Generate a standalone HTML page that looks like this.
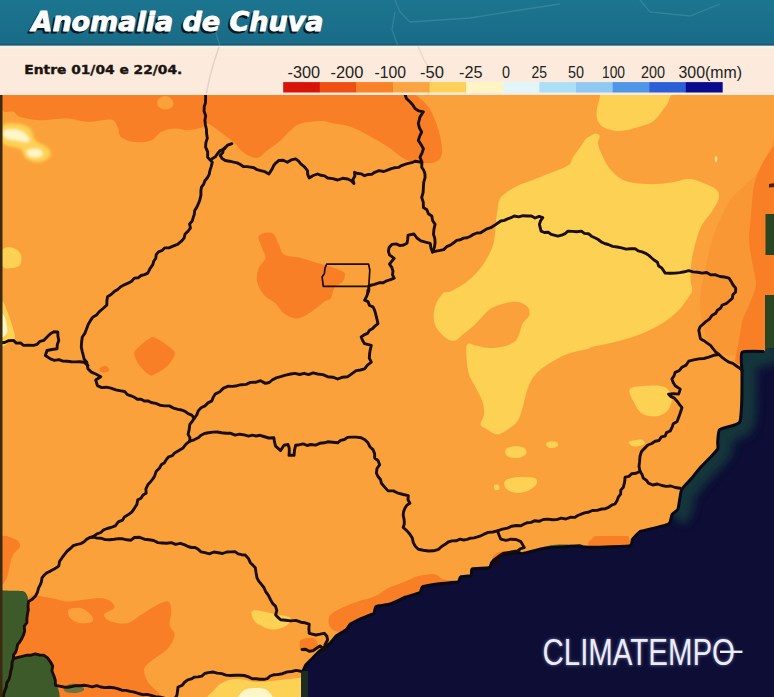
<!DOCTYPE html>
<html><head><meta charset="utf-8"><title>Anomalia de Chuva</title>
<style>
html,body{margin:0;padding:0;background:#fff;}
body{width:774px;height:697px;overflow:hidden;position:relative;font-family:"Liberation Sans",sans-serif;}
svg{position:absolute;left:0;top:0;display:block}
</style></head><body>
<svg width="774" height="697" viewBox="0 0 774 697">
<defs>
<linearGradient id="hg" x1="0" y1="0" x2="0" y2="1"><stop offset="0" stop-color="#1c7590"/><stop offset="1" stop-color="#196b86"/></linearGradient>
<filter id="b1" x="-10%" y="-10%" width="120%" height="120%"><feGaussianBlur stdDeviation="0.6"/></filter>
<filter id="b15" x="-10%" y="-10%" width="120%" height="120%"><feGaussianBlur stdDeviation="1.4"/></filter>
<filter id="b2" x="-10%" y="-30%" width="120%" height="160%"><feGaussianBlur stdDeviation="1.6"/></filter>
<filter id="b3" x="-20%" y="-20%" width="140%" height="140%"><feGaussianBlur stdDeviation="5"/></filter>
<clipPath id="mapclip"><rect x="0" y="94" width="774" height="603"/></clipPath>
</defs>

<rect x="0" y="94" width="774" height="603" fill="#fba13b"/>
<g clip-path="url(#mapclip)"><g filter="url(#b1)">
<path d="M0 94 C0.5 99.1 0.5 107.8 2.7 110.8 C4.9 113.8 10.5 110.8 13.4 111.8 C16.3 112.8 15.7 115.5 20.2 116.9 C24.7 118.3 32.5 119.9 40.3 120.2 C48.1 120.5 59.4 118.3 67.2 118.6 C75.0 118.9 80.0 121.7 87.3 121.9 C94.6 122.1 105.9 118.8 110.9 119.6 C116.0 120.4 115.9 124.1 117.6 127 C119.3 129.9 118.1 134.5 120.9 137 C123.7 139.5 129.4 141.5 134.4 142.1 C139.4 142.7 146.7 142.1 151.2 140.4 C155.7 138.7 157.3 134.0 161.2 132 C165.1 130.0 170.2 128.9 174.7 128.6 C179.2 128.3 183.6 130.5 188.1 130.3 C192.6 130.1 198.4 128.7 201.6 127.6 C204.8 126.5 204.3 122.9 207.4 123.6 C210.5 124.3 215.8 128.9 220.2 132 C224.6 135.1 229.7 138.6 233.6 142.1 C237.5 145.6 239.8 150.2 243.7 152.8 C247.6 155.4 253.2 158.3 257.1 157.9 C261.0 157.5 263.3 153.4 267.2 150.5 C271.1 147.6 276.7 143.8 280.6 140.4 C284.5 137.0 287.3 133.1 290.7 130.3 C294.1 127.5 295.8 125.2 300.8 123.6 C305.8 122.0 315.3 120.9 320.9 120.9 C326.5 120.9 329.3 122.6 334.4 123.6 C339.4 124.6 345.6 125.0 351.2 127 C356.8 128.9 361.9 132.0 368 135.3 C374.1 138.7 382.5 143.4 388.1 147.1 C393.7 150.8 397.1 154.7 401.6 157.2 C406.1 159.7 409.4 161.4 415 162.2 C420.6 163.0 430.6 163.6 435.1 162.2 C439.6 160.8 441.0 158.0 441.9 153.8 C442.8 149.6 441.3 142.6 440.2 137 C439.1 131.4 437.1 125.2 435.1 120.2 C433.1 115.2 431.2 110.7 428.4 106.8 C425.6 102.9 420.5 98.8 418.3 96.7 C416.1 94.6 415.6 96.8 415 94 C414.4 91.2 484.2 82.3 415 80 C345.8 77.7 69.2 77.7 0 80 C-69.2 82.3 -0.5 88.9 0 94Z" fill="#f97f28"/>
<path d="M157.9 100.1 C158.9 98.3 162.2 96.1 164.6 96 C166.9 95.9 170.6 97.7 172 99.4 C173.4 101.1 173.9 104.4 173 106.1 C172.1 107.8 168.7 109.4 166.3 109.5 C163.9 109.6 160.0 108.4 158.6 106.8 C157.2 105.2 156.9 101.9 157.9 100.1Z" fill="#fba13b"/>
<path d="M2.7 249.6 C4.5 246.5 10.4 247.1 13.4 247.9 C16.4 248.7 19.7 251.8 20.8 254.6 C21.9 257.4 21.7 262.5 20.2 264.7 C18.7 266.9 14.7 267.7 11.8 268 C8.9 268.3 4.2 269.5 2.7 266.4 C1.2 263.3 0.9 252.7 2.7 249.6Z" fill="#fdd153"/>
<path d="M0 301.8 C0.5 296.3 2.7 301.4 4 303.4 C5.3 305.4 7.9 312.4 9.4 316.9 C10.9 321.4 15.2 333.5 15.1 337 C15.0 340.5 10.4 342.1 8.4 343.1 C6.4 344.1 1.1 349.9 0 344.4 C-1.1 338.9 -0.5 307.3 0 301.8Z" fill="#fdd153"/>
<path d="M0 313.5 C0.6 310.8 3.7 314.4 4.7 316.9 C5.7 319.4 8.0 329.3 7.4 332 C6.8 334.7 1.0 339.5 0 337 C-1.0 334.5 -0.6 316.2 0 313.5Z" fill="#fff6c8"/>
<path d="M258.8 236 C260.5 233.5 268.6 231.6 272 233 C275.4 234.4 277.0 240.9 279 244.5 C281.0 248.1 280.4 252.3 284 254.6 C287.6 256.9 295.2 256.6 300.8 258 C306.4 259.4 312.0 261.3 317.6 263 C323.2 264.7 329.9 266.3 334.4 268 C338.9 269.7 343.0 270.8 344.4 273 C345.8 275.2 344.5 279.0 342.8 281.5 C341.1 284.0 336.4 285.2 334.4 288 C332.4 290.8 332.7 295.7 331 298 C329.3 300.3 327.3 299.7 324 302 C320.7 304.3 315.4 309.2 311 312 C306.6 314.8 301.9 318.2 297.4 318.5 C292.9 318.8 287.6 316.0 284 313.5 C280.4 311.0 278.9 306.5 275.6 303.4 C272.3 300.3 267.1 298.6 264 295 C260.9 291.4 257.9 286.0 257 281.5 C256.1 277.0 257.4 271.9 258.8 268 C260.2 264.1 265.0 261.3 265.5 258 C266.0 254.7 263.1 251.7 262 248 C260.9 244.3 257.1 238.5 258.8 236Z" fill="#f97f28"/>
<path d="M152.8 337 C156.8 337.0 173.2 349.2 174.7 352.1 C176.2 355.0 170.3 363.2 168 365.6 C165.7 368.0 154.1 375.7 151.2 375.7 C148.3 375.7 141.1 368.0 139.4 365.6 C137.7 363.2 133.1 355.0 134.4 352.1 C135.7 349.2 148.8 337.0 152.8 337Z" fill="#f97f28"/>
<path d="M100.1 367.9 C101.0 367.0 104.3 365.6 105.8 365.9 C107.3 366.2 109.4 368.8 109.2 369.9 C109.0 371.0 106.3 372.4 104.8 372.6 C103.3 372.8 100.9 372.1 100.1 371.3 C99.3 370.5 99.1 368.8 100.1 367.9Z" fill="#f97f28"/>
<path d="M602 80 C590.2 82.7 600.9 90.8 600 96 C599.1 101.2 597.0 106.8 596.7 111 C596.4 115.2 596.6 118.2 598 121 C599.4 123.8 601.4 126.3 605 128 C608.6 129.7 613.8 131.2 619.5 131 C625.2 130.8 633.7 128.4 639.4 126.7 C645.1 125.0 649.8 123.6 653.6 121 C657.4 118.4 659.4 114.5 662 111 C664.6 107.5 667.5 104.9 669 99.7 C670.5 94.5 682.2 83.3 671 80 C659.8 76.7 613.8 77.3 602 80Z" fill="#fdd153"/>
<path d="M599.6 136 C599.1 134.3 596.7 133.6 595.3 133.6 C593.9 133.6 592.5 134.9 591 135.8 C589.5 136.7 587.6 137.2 586 138.8 C584.4 140.4 583.6 142.3 581.4 145.4 C579.2 148.5 575.2 153.8 573 157.2 C570.8 160.6 572.2 162.8 568 165.6 C563.8 168.4 554.0 171.5 547.8 174 C541.6 176.5 536.6 178.5 531 180.7 C525.4 182.9 519.2 184.6 514.2 187.4 C509.2 190.2 503.6 193.6 500.8 197.5 C498.0 201.4 498.2 206.4 497.4 210.9 C496.5 215.4 496.2 219.4 495.7 224.4 C495.1 229.4 495.2 236.2 494.1 241.2 C493.0 246.2 491.2 250.1 489 254.6 C486.8 259.1 484.2 263.5 480.6 268 C477.0 272.5 472.2 277.6 467.2 281.5 C462.2 285.4 454.3 289.7 450.4 291.6 C446.5 293.5 446.0 290.7 443.7 292.7 C441.4 294.7 438.0 299.4 436.3 303.4 C434.6 307.4 433.5 312.7 433.6 316.9 C433.7 321.1 434.8 325.0 437 328.6 C439.2 332.2 443.9 336.7 447 338.7 C450.1 340.7 452.6 341.2 455.4 340.4 C458.2 339.6 461.0 335.9 463.8 333.7 C466.6 331.5 469.4 329.5 472.2 327 C475.0 324.5 477.5 321.7 480.6 318.6 C483.7 315.5 486.8 311.0 490.7 308.5 C494.6 306.0 499.6 304.5 504.1 303.4 C508.6 302.3 513.7 301.2 517.6 301.8 C521.5 302.4 525.7 304.6 527.6 306.8 C529.5 309.0 530.1 312.4 529.3 315.2 C528.5 318.0 524.3 320.5 522.6 323.6 C520.9 326.7 520.7 330.6 519.3 333.7 C517.9 336.8 517.3 339.9 514.2 342.1 C511.1 344.3 505.3 346.2 500.8 347.1 C496.3 348.1 491.5 348.1 487.3 347.8 C483.1 347.5 479.0 346.0 475.6 345.4 C472.2 344.8 468.7 342.4 467.2 344.4 C465.7 346.4 466.2 352.3 466.5 357.2 C466.8 362.1 467.4 369.0 468.9 374 C470.4 379.0 473.4 382.9 475.6 387.4 C477.8 391.9 480.9 396.4 482.3 400.9 C483.7 405.4 484.3 410.4 484 414.3 C483.7 418.2 480.1 421.9 480.6 424.4 C481.2 426.9 484.5 427.7 487.3 429.4 C490.1 431.1 494.0 434.4 497.4 434.4 C500.8 434.4 504.1 431.6 507.5 429.4 C510.9 427.2 515.1 424.6 517.6 421 C520.1 417.4 521.2 412.1 522.6 407.6 C524.0 403.1 524.6 398.6 526 394.1 C527.4 389.6 528.8 384.6 531 380.7 C533.2 376.8 536.0 373.7 539.4 370.6 C542.8 367.5 546.4 365.0 551.2 362.2 C556.0 359.4 561.9 356.0 568 353.8 C574.1 351.6 584.2 349.9 588.1 348.8 C592.0 347.7 586.8 348.2 591.3 347.1 C595.8 346.0 606.4 344.3 614.8 342.1 C623.2 339.9 633.8 336.8 641.6 333.7 C649.4 330.6 655.6 327.5 661.8 323.6 C668.0 319.7 674.1 314.7 678.6 310.2 C683.1 305.7 686.5 300.1 688.7 296.7 C690.9 293.3 691.7 293.1 692 290 C692.3 286.9 690.4 283.4 690.4 278.1 C690.4 272.8 690.9 264.7 692 258 C693.1 251.3 695.4 243.4 697.1 237.8 C698.8 232.2 699.6 228.9 702.1 224.4 C704.6 219.9 709.4 215.4 712.2 210.9 C715.0 206.4 718.3 201.1 718.9 197.5 C719.5 193.9 718.4 191.6 715.6 189.1 C712.8 186.6 706.6 184.1 702.1 182.4 C697.6 180.7 693.7 179.0 688.7 179 C683.7 179.0 678.6 181.6 671.9 182.4 C665.2 183.2 656.2 184.4 648.4 184.1 C640.6 183.8 631.1 182.9 624.9 180.7 C618.7 178.4 615.0 174.5 611.4 170.6 C607.8 166.7 605.2 161.7 603 157.2 C600.8 152.7 598.6 147.2 598 143.7 C597.4 140.2 600.1 137.7 599.6 136Z" fill="#fdd153"/>
<path d="M715 157 C715.2 156.2 716.1 156.2 716.5 156.5 C716.9 156.8 717.3 158.1 717.3 159 C717.3 159.9 716.9 161.6 716.5 162 C716.1 162.4 715.2 162.3 715 161.5 C714.8 160.7 714.8 157.8 715 157Z" fill="#fde08a"/>
<path d="M629.9 389.1 C632.1 386.0 642.5 386.0 648.4 385.7 C654.3 385.4 661.3 385.4 665.2 387.4 C669.1 389.4 671.4 393.9 671.9 397.5 C672.4 401.1 670.8 406.2 668.5 409.3 C666.2 412.4 662.6 415.2 658.4 416 C654.2 416.8 647.2 416.3 643.3 414.3 C639.4 412.3 637.1 408.4 634.9 404.2 C632.7 400.0 627.6 392.2 629.9 389.1Z" fill="#fdd153"/>
<path d="M505.8 449.6 C506.9 447.9 511.1 446.5 514.2 446.2 C517.3 445.9 522.3 446.6 524.3 447.9 C526.3 449.2 527.1 452.2 526 453.9 C524.9 455.6 520.7 457.6 517.6 458 C514.5 458.4 509.5 457.7 507.5 456.3 C505.5 454.9 504.7 451.3 505.8 449.6Z" fill="#fdd153"/>
<path d="M546.8 442.8 C547.8 442.1 551.2 441.4 552.8 441.8 C554.4 442.2 556.5 444.2 556.2 445.2 C555.9 446.2 552.7 447.7 551.2 447.9 C549.7 448.1 547.8 447.0 547.1 446.2 C546.4 445.4 545.8 443.5 546.8 442.8Z" fill="#fdd153"/>
<path d="M504.8 481.5 C506.2 479.7 509.3 478.0 514.2 477.4 C519.1 476.8 530.8 476.9 534.4 478.1 C538.0 479.3 537.4 482.6 536 484.8 C534.6 487.1 529.6 490.3 526 491.6 C522.4 492.9 517.6 493.2 514.2 492.6 C510.8 492.0 507.4 490.1 505.8 488.2 C504.2 486.3 503.4 483.3 504.8 481.5Z" fill="#fdd153"/>
<path d="M494.1 485.5 C494.6 484.6 497.2 484.2 498.1 484.8 C499.0 485.4 499.9 488.0 499.4 488.9 C498.9 489.8 496.0 490.5 495.1 489.9 C494.2 489.3 493.6 486.4 494.1 485.5Z" fill="#fdd153"/>
<path d="M629.9 441.2 C631.8 440.4 639.2 439.1 641.6 439.5 C644.0 439.9 645.4 442.7 644.3 443.9 C643.2 445.1 637.2 446.4 634.9 446.5 C632.5 446.6 631.0 445.4 630.2 444.5 C629.4 443.6 628.0 442.0 629.9 441.2Z" fill="#fdd153"/>
<path d="M546.9 442.8 C548.0 441.8 554.2 441.2 556 441.8 C557.8 442.4 558.8 445.2 557.7 446.2 C556.6 447.2 551.1 448.5 549.3 447.9 C547.5 447.3 545.8 443.8 546.9 442.8Z" fill="#fdd153"/>
<path d="M780 140 C777.5 108.2 770.8 157.5 765 165 C759.2 172.5 750.8 179.2 745 185 C739.2 190.8 733.8 195.0 730 200 C726.2 205.0 725.0 208.3 722 215 C719.0 221.7 714.8 230.8 712 240 C709.2 249.2 707.0 260.0 705 270 C703.0 280.0 700.2 290.0 700 300 C699.8 310.0 701.3 321.3 704 330 C706.7 338.7 709.2 347.7 716 352 C722.8 356.3 734.3 355.3 745 356 C755.7 356.7 774.2 392.0 780 356 C785.8 320.0 782.5 171.8 780 140Z" fill="#fa9735"/>
<path d="M780 140 C779.0 106.7 776.4 142.5 774 145.4 C771.6 148.3 768.6 152.4 765.9 157.2 C763.1 162.0 759.6 168.4 757.5 174 C755.4 179.6 754.3 183.5 753.2 190.8 C752.1 198.1 751.5 209.2 750.8 217.6 C750.1 226.0 748.8 233.3 749.1 241.2 C749.4 249.0 751.4 257.4 752.5 264.7 C753.6 272.0 756.5 278.1 755.9 284.8 C755.3 291.5 751.4 299.1 749.1 305 C746.9 310.9 744.1 314.3 742.4 320.2 C740.7 326.1 740.2 333.4 739.1 340.4 C738.0 347.4 734.0 358.6 735.7 362.2 C737.4 365.8 744.3 363.9 749.1 362.2 C753.9 360.5 759.1 355.0 764.3 352.1 C769.4 349.2 777.4 380.4 780 345 C782.6 309.6 781.0 173.3 780 140Z" fill="#f97f28"/>
<path d="M30.2 596.3 C33.8 593.5 44.2 597.1 50.4 598 C56.6 598.9 61.6 601.1 67.2 601.4 C72.8 601.7 78.4 600.3 84 599.7 C89.6 599.1 96.3 597.7 100.8 598 C105.3 598.3 108.7 599.7 110.9 601.4 C113.1 603.1 115.3 605.9 114.2 608.1 C113.1 610.3 104.6 612.6 104.1 614.8 C103.5 617.0 107.0 620.1 110.9 621.5 C114.8 622.9 122.6 624.3 127.6 623.2 C132.6 622.1 136.6 617.6 141.1 614.8 C145.6 612.0 150.0 608.6 154.5 606.4 C159.0 604.2 165.2 600.6 168 601.4 C170.8 602.2 171.0 607.5 171.3 611.4 C171.6 615.3 169.0 621.0 169.6 624.9 C170.2 628.8 175.0 631.1 174.7 635 C174.4 638.9 171.4 644.5 168 648.4 C164.6 652.3 158.4 655.1 154.5 658.5 C150.6 661.9 145.5 664.7 144.4 668.6 C143.3 672.5 145.6 678.1 147.8 682 C150.1 685.9 155.7 688.8 157.9 692.1 C160.1 695.5 170.7 700.4 161.2 702.1 C151.7 703.8 119.3 702.1 100.8 702.1 C82.3 702.1 63.8 702.7 50.4 702.1 C37.0 701.5 26.4 706.6 20.2 698.8 C14.0 691.0 12.8 665.7 13.4 655.1 C14.0 644.5 21.0 641.7 23.5 635 C26.0 628.3 27.5 621.2 28.6 614.8 C29.7 608.3 26.6 599.1 30.2 596.3Z" fill="#f97f28"/>
<path d="M68.9 609.8 C70.6 608.1 77.0 607.3 80.6 608.1 C84.2 608.9 88.7 612.6 90.7 614.8 C92.7 617.0 94.1 620.1 92.4 621.5 C90.7 622.9 84.2 623.8 80.6 623.2 C76.9 622.7 72.5 620.4 70.5 618.2 C68.5 616.0 67.2 611.5 68.9 609.8Z" fill="#fba13b"/>
<path d="M0 539.2 C2.5 531.9 11.7 538.1 15.1 539.2 C18.5 540.3 20.5 543.4 20.2 545.9 C19.9 548.4 15.1 551.2 13.4 554.3 C11.7 557.4 11.2 560.5 10.1 564.4 C9.0 568.3 8.4 574.8 6.7 577.9 C5.0 581.0 1.1 589.3 0 582.9 C-1.1 576.5 -2.5 546.5 0 539.2Z" fill="#f97f28"/>
<path d="M253.1 610.8 C254.7 609.6 259.8 610.7 263.8 611.4 C267.8 612.1 272.9 613.8 277.3 614.8 C281.7 615.8 288.4 615.7 290 617.5 C291.6 619.3 289.4 623.6 286.7 625.6 C284.0 627.6 278.0 629.5 273.9 629.6 C269.8 629.7 265.4 628.0 262.1 626.2 C258.9 624.4 255.9 621.4 254.4 618.8 C252.9 616.2 251.5 612.0 253.1 610.8Z" fill="#fdd153"/>
<path d="M212 704 C197.2 701.5 212.7 692.8 215 689 C217.3 685.2 221.8 682.7 226 681 C230.2 679.3 235.0 678.8 240 679 C245.0 679.2 250.7 681.7 256 682 C261.3 682.3 266.3 681.5 272 681 C277.7 680.5 284.7 679.2 290 679 C295.3 678.8 301.7 675.8 304 680 C306.3 684.2 319.3 700.0 304 704 C288.7 708.0 226.8 706.5 212 704Z" fill="#fdd153"/>
<path d="M238 704 C233.0 701.8 240.0 693.7 243 691 C246.0 688.3 251.8 688.0 256 688 C260.2 688.0 265.2 688.3 268 691 C270.8 693.7 278.0 701.8 273 704 C268.0 706.2 243.0 706.2 238 704Z" fill="#fff6c8"/>
<path d="M251.9 611.4 C253.0 610.6 258.6 612.5 260 614.8 C261.4 617.0 261.1 624.1 260 624.9 C258.9 625.7 254.9 622.0 253.6 619.8 C252.2 617.5 250.8 612.2 251.9 611.4Z" fill="#fdd153"/>
<path d="M329.3 616.5 C331.0 613.1 336.3 610.6 341.1 608.1 C345.9 605.6 352.3 603.4 357.9 601.4 C363.5 599.4 369.7 598.5 374.7 596.3 C379.7 594.0 383.6 590.1 388.1 587.9 C392.6 585.7 396.6 584.8 401.6 582.9 C406.6 581.0 412.7 577.6 418.3 576.2 C423.9 574.8 431.2 574.0 435.1 574.5 C439.0 575.0 437.8 578.4 441.9 579.5 C446.0 580.6 455.8 580.4 460 581.2 C464.2 582.1 468.8 583.2 467.2 584.6 C465.6 586.0 456.0 588.2 450.4 589.6 C444.8 591.0 438.6 591.6 433.6 593 C428.6 594.4 427.8 595.5 420.2 598 C412.6 600.5 396.8 604.5 388.1 608.1 C379.4 611.7 375.3 615.9 368 619.8 C360.7 623.7 350.6 630.2 344.4 631.6 C338.2 633.0 333.5 630.7 331 628.2 C328.5 625.7 327.6 619.9 329.3 616.5Z" fill="#f97f28"/>
<path d="M400 589.6 C402.2 585.1 407.8 580.4 413.4 577.9 C419.0 575.4 428.6 574.2 433.6 574.5 C438.7 574.8 439.2 578.1 443.7 579.5 C448.2 580.9 456.6 581.5 460.5 582.9 C464.4 584.3 471.7 585.9 467.2 587.9 C462.7 589.9 444.8 591.8 433.6 594.6 C422.4 597.4 405.6 605.5 400 604.7 C394.4 603.9 397.8 594.1 400 589.6Z" fill="#f97f28"/>
<path d="M492 559 C491.8 557.7 494.8 554.3 497 553 C499.2 551.7 502.7 551.0 505 551 C507.3 551.0 510.5 551.8 511 553 C511.5 554.2 510.2 556.7 508 558 C505.8 559.3 500.7 560.8 498 561 C495.3 561.2 492.2 560.3 492 559Z" fill="#f97f28"/>
<path d="M546 551 C544.0 549.8 545.7 547.1 548 546 C550.3 544.9 555.7 544.7 560 544.5 C564.3 544.3 570.7 544.4 574 545 C577.3 545.6 579.3 546.8 580 548 C580.7 549.2 581.3 551.2 578 552 C574.7 552.8 565.3 553.2 560 553 C554.7 552.8 548.0 552.2 546 551Z" fill="#4a5a36"/>
<path d="M588.1 542.6 L594.8 535.9 L628.4 535.9 L631.8 547.6 L588.1 549.3Z" fill="#f97f28"/>
<path d="M300.8 640 C303.0 638.0 311.4 636.9 314.2 638.3 C317.0 639.7 318.7 646.1 317.6 648.4 C316.5 650.6 310.3 651.5 307.5 651.8 C304.7 652.1 301.9 652.1 300.8 650.1 C299.7 648.1 298.6 642.0 300.8 640Z" fill="#f97f28"/>
<path d="M0 575 C0.0 560.0 -3.1 587.4 0 589.6 C3.1 591.8 19.7 589.7 23.5 591.3 C27.3 592.9 28.1 597.8 28.6 601.4 C29.1 605.0 27.6 613.7 26.9 618.2 C26.2 622.7 24.8 631.0 23.5 635 C22.2 639.0 18.1 645.3 16.8 648.4 C15.5 651.5 12.1 657.6 13.4 658.5 C14.7 659.4 22.9 655.6 26.9 655.1 C30.9 654.6 40.6 654.2 43.7 655.1 C46.8 656.0 49.1 659.1 50.4 661.8 C51.7 664.5 52.8 669.9 53.7 675.3 C54.6 680.7 64.3 698.5 57.1 702.1 C49.9 705.7 7.6 719.0 0 702.1 C-7.6 685.2 0.0 590.0 0 575Z" fill="#3c5a2c"/>
<path d="M64 688 C64.7 686.7 67.3 684.5 70 684 C72.7 683.5 77.7 684.0 80 685 C82.3 686.0 84.7 688.7 84 690 C83.3 691.3 79.0 692.7 76 693 C73.0 693.3 68.0 692.8 66 692 C64.0 691.2 63.3 689.3 64 688Z" fill="#6a7440"/>
<path d="M769 184 L775 183 L775 187 L769 187.5Z" fill="#4a2010"/>
<path d="M765.5 214 L780 214 L780 255 L765.5 255Z" fill="#2a4524"/>
<path d="M765 295 L780 295 L780 352 L765 352Z" fill="#2a4524"/>
<path d="M776 347.7 C775.2 347.8 768.0 348.4 767 348.7 C766.0 349.0 766.4 351.2 764.3 351.5 C762.2 351.8 743.9 350.6 742 352.4 C740.1 354.2 742.0 368.6 742 373 C742.0 377.4 741.8 400.6 741.6 404.6 C741.4 408.6 740.6 419.7 740 421.4 C739.4 423.1 736.2 424.3 734.5 425 C732.8 425.7 720.9 428.4 719.5 429.8 C718.1 431.2 717.9 440.4 717.7 442 C717.6 443.6 718.3 447.8 717.7 449 C717.1 450.2 712.5 455.1 711 456.7 C709.5 458.3 701.7 466.1 700 468 C698.3 469.9 692.5 477.2 691 479 C689.5 480.8 682.6 487.5 681.5 490 C680.4 492.5 678.8 507.0 678 509 C677.2 511.0 672.8 513.2 672 514.5 C671.2 515.8 671.0 522.6 668.5 524 C666.0 525.4 644.4 530.4 642 531 C639.6 531.6 640.8 530.9 640 531.6 C639.2 532.3 633.3 538.2 632.5 539.4 C631.7 540.6 632.3 545.2 630 545.8 C627.7 546.4 609.2 546.9 605.4 547 C601.6 547.1 586.9 547.1 584.7 547 C582.5 546.9 581.4 545.8 579.5 545.8 C577.6 545.8 564.4 546.8 561.4 547 C558.4 547.2 546.6 547.9 543.4 548.4 C540.2 548.9 524.9 553.3 522.7 553.6 C520.5 553.9 519.2 552.2 517.5 552.3 C515.8 552.4 503.8 554.4 502 554.9 C500.2 555.4 496.4 558.2 495.5 558.8 C494.6 559.4 492.2 561.9 491.7 562.6 C491.2 563.4 490.6 567.3 489 567.8 C487.4 568.3 473.8 568.4 472.3 569 C470.8 569.6 472.0 574.9 471 575.5 C470.0 576.1 461.8 576.3 460.7 576.8 C459.6 577.3 459.6 581.4 458 582 C456.4 582.6 443.9 583.1 441 583.5 C438.1 583.9 424.4 585.9 422.6 586.7 C420.9 587.5 421.4 591.7 420 592.6 C418.6 593.5 408.5 596.0 406 597 C403.5 598.0 392.5 603.2 390 604 C387.5 604.8 377.4 605.7 376 606.5 C374.6 607.3 375.0 612.5 373.7 613.5 C372.4 614.5 361.9 618.1 360 619 C358.1 619.9 351.7 623.1 350.5 624 C349.3 624.9 347.2 629.0 346 630 C344.8 631.0 337.9 634.5 336.5 635.6 C335.1 636.7 330.9 642.4 329.5 643.7 C328.1 645.0 321.4 649.5 320 650.7 C318.6 651.9 314.2 656.5 313 657.7 C311.8 658.9 306.9 663.5 306 664.7 C305.1 665.9 303.1 671.0 302.8 671.6 L301.6 672 L301.6 700 L776 700 Z" fill="#0b0a36"/>
</g><g filter="url(#b15)">
<path d="M2.7 125.3 C5.2 122.5 12.2 123.0 16.8 123.6 C21.4 124.1 27.1 125.8 30.2 128.6 C33.3 131.4 32.5 137.3 35.3 140.4 C38.1 143.5 44.5 144.6 47 147.1 C49.5 149.6 51.5 153.0 50.4 155.5 C49.3 158.0 44.2 161.6 40.3 162.2 C36.4 162.8 30.2 161.1 26.9 158.9 C23.5 156.7 23.6 151.1 20.2 148.8 C16.8 146.6 9.8 146.8 6.7 145.4 C3.6 144.0 2.4 143.8 1.7 140.4 C1.0 137.1 0.2 128.1 2.7 125.3Z" fill="#fdd153"/>
<path d="M4 130.3 C6.0 129.0 13.0 128.8 16.8 129.6 C20.6 130.4 24.9 133.2 26.9 135.3 C28.9 137.4 30.3 141.2 28.6 142.1 C26.9 142.9 20.7 141.1 16.8 140.4 C12.9 139.7 7.1 139.4 5 137.7 C2.9 136.0 2.0 131.7 4 130.3Z" fill="#fff6c8"/>
<path d="M26.9 150.5 C28.1 149.2 34.3 148.4 37 148.8 C39.7 149.2 42.7 151.8 43 153.2 C43.3 154.6 40.8 156.6 38.6 157.2 C36.4 157.8 31.6 157.6 29.6 156.5 C27.7 155.4 25.7 151.8 26.9 150.5Z" fill="#fff6c8"/>
</g>
<clipPath id="oc"><path d="M776 347.7 C775.2 347.8 768.0 348.4 767 348.7 C766.0 349.0 766.4 351.2 764.3 351.5 C762.2 351.8 743.9 350.6 742 352.4 C740.1 354.2 742.0 368.6 742 373 C742.0 377.4 741.8 400.6 741.6 404.6 C741.4 408.6 740.6 419.7 740 421.4 C739.4 423.1 736.2 424.3 734.5 425 C732.8 425.7 720.9 428.4 719.5 429.8 C718.1 431.2 717.9 440.4 717.7 442 C717.6 443.6 718.3 447.8 717.7 449 C717.1 450.2 712.5 455.1 711 456.7 C709.5 458.3 701.7 466.1 700 468 C698.3 469.9 692.5 477.2 691 479 C689.5 480.8 682.6 487.5 681.5 490 C680.4 492.5 678.8 507.0 678 509 C677.2 511.0 672.8 513.2 672 514.5 C671.2 515.8 671.0 522.6 668.5 524 C666.0 525.4 644.4 530.4 642 531 C639.6 531.6 640.8 530.9 640 531.6 C639.2 532.3 633.3 538.2 632.5 539.4 C631.7 540.6 632.3 545.2 630 545.8 C627.7 546.4 609.2 546.9 605.4 547 C601.6 547.1 586.9 547.1 584.7 547 C582.5 546.9 581.4 545.8 579.5 545.8 C577.6 545.8 564.4 546.8 561.4 547 C558.4 547.2 546.6 547.9 543.4 548.4 C540.2 548.9 524.9 553.3 522.7 553.6 C520.5 553.9 519.2 552.2 517.5 552.3 C515.8 552.4 503.8 554.4 502 554.9 C500.2 555.4 496.4 558.2 495.5 558.8 C494.6 559.4 492.2 561.9 491.7 562.6 C491.2 563.4 490.6 567.3 489 567.8 C487.4 568.3 473.8 568.4 472.3 569 C470.8 569.6 472.0 574.9 471 575.5 C470.0 576.1 461.8 576.3 460.7 576.8 C459.6 577.3 459.6 581.4 458 582 C456.4 582.6 443.9 583.1 441 583.5 C438.1 583.9 424.4 585.9 422.6 586.7 C420.9 587.5 421.4 591.7 420 592.6 C418.6 593.5 408.5 596.0 406 597 C403.5 598.0 392.5 603.2 390 604 C387.5 604.8 377.4 605.7 376 606.5 C374.6 607.3 375.0 612.5 373.7 613.5 C372.4 614.5 361.9 618.1 360 619 C358.1 619.9 351.7 623.1 350.5 624 C349.3 624.9 347.2 629.0 346 630 C344.8 631.0 337.9 634.5 336.5 635.6 C335.1 636.7 330.9 642.4 329.5 643.7 C328.1 645.0 321.4 649.5 320 650.7 C318.6 651.9 314.2 656.5 313 657.7 C311.8 658.9 306.9 663.5 306 664.7 C305.1 665.9 303.1 671.0 302.8 671.6 L301.6 672 L301.6 700 L776 700 Z"/></clipPath>
<g clip-path="url(#oc)"><path d="M776 347.7 C775.2 347.8 768.0 348.4 767 348.7 C766.0 349.0 766.4 351.2 764.3 351.5 C762.2 351.8 743.9 350.6 742 352.4 C740.1 354.2 742.0 368.6 742 373 C742.0 377.4 741.8 400.6 741.6 404.6 C741.4 408.6 740.6 419.7 740 421.4 C739.4 423.1 736.2 424.3 734.5 425 C732.8 425.7 720.9 428.4 719.5 429.8 C718.1 431.2 717.9 440.4 717.7 442 C717.6 443.6 718.3 447.8 717.7 449 C717.1 450.2 712.5 455.1 711 456.7 C709.5 458.3 701.7 466.1 700 468 C698.3 469.9 692.5 477.2 691 479 C689.5 480.8 682.6 487.5 681.5 490 C680.4 492.5 678.8 507.0 678 509 C677.2 511.0 672.5 514.0 672 514.5" fill="none" stroke="#153c3c" stroke-width="30" filter="url(#b3)" opacity="0.85"/></g>
<path d="M764.3 351.5 C762.4 351.6 743.9 350.6 742 352.4 C740.1 354.2 742.0 368.6 742 373 C742.0 377.4 741.8 400.6 741.6 404.6 C741.4 408.6 740.6 419.7 740 421.4 C739.4 423.1 736.2 424.3 734.5 425 C732.8 425.7 720.9 428.4 719.5 429.8 C718.1 431.2 717.9 440.4 717.7 442 C717.6 443.6 718.3 447.8 717.7 449 C717.1 450.2 712.5 455.1 711 456.7 C709.5 458.3 701.7 466.1 700 468 C698.3 469.9 692.5 477.2 691 479 C689.5 480.8 682.6 487.5 681.5 490 C680.4 492.5 678.8 507.0 678 509 C677.2 511.0 672.8 513.2 672 514.5 C671.2 515.8 671.0 522.6 668.5 524 C666.0 525.4 644.4 530.4 642 531 C639.6 531.6 640.8 530.9 640 531.6 C639.2 532.3 633.3 538.2 632.5 539.4 C631.7 540.6 632.3 545.2 630 545.8 C627.7 546.4 609.2 546.9 605.4 547 C601.6 547.1 586.9 547.1 584.7 547 C582.5 546.9 581.4 545.8 579.5 545.8 C577.6 545.8 564.4 546.8 561.4 547 C558.4 547.2 546.6 547.9 543.4 548.4 C540.2 548.9 524.9 553.3 522.7 553.6 C520.5 553.9 519.2 552.2 517.5 552.3 C515.8 552.4 503.8 554.4 502 554.9 C500.2 555.4 496.4 558.2 495.5 558.8 C494.6 559.4 492.2 561.9 491.7 562.6 C491.2 563.4 490.6 567.3 489 567.8 C487.4 568.3 473.8 568.4 472.3 569 C470.8 569.6 472.0 574.9 471 575.5 C470.0 576.1 461.8 576.3 460.7 576.8 C459.6 577.3 459.6 581.4 458 582 C456.4 582.6 443.9 583.1 441 583.5 C438.1 583.9 424.4 585.9 422.6 586.7 C420.9 587.5 421.4 591.7 420 592.6 C418.6 593.5 408.5 596.0 406 597 C403.5 598.0 392.5 603.2 390 604 C387.5 604.8 377.4 605.7 376 606.5 C374.6 607.3 375.0 612.5 373.7 613.5 C372.4 614.5 361.9 618.1 360 619 C358.1 619.9 351.7 623.1 350.5 624 C349.3 624.9 347.2 629.0 346 630 C344.8 631.0 337.9 634.5 336.5 635.6 C335.1 636.7 330.9 642.4 329.5 643.7 C328.1 645.0 321.4 649.5 320 650.7 C318.6 651.9 314.2 656.5 313 657.7 C311.8 658.9 306.9 663.5 306 664.7 C305.1 665.9 303.1 671.0 302.8 671.6" fill="none" stroke="#0a0a16" stroke-width="3" stroke-linejoin="round"/>
<rect x="301" y="671" width="7" height="30" fill="#1c2c20"/>
<path d="M205.6 94 L205.6 98.3 L205.5 102.6 L204.2 106.8 L204.1 111.3 L205.7 115.7 L204.9 120.2 L205.4 124.7 L206.4 129.2 L206.6 133.7 L207.3 138.2 L205.9 142.6 L205.6 147.1 L207.7 151.9 L207.6 157.2 L212.3 162.2 L211.3 166.4 L209.9 170.6 L209.2 174.4 L207.4 177.8 L204.9 180.7 L203.7 184.1 L201.5 187.1 L200.9 190.8 L200.9 195.4 L199.8 199.9 L198.2 204.2 L196.7 207.4 L194.7 210.5 L194.3 214.2 L193.2 217.6 L192.2 221.1 L189.6 223.9 L190.4 228.1 L188.1 231.1 L185.1 234 L184.1 238.1 L181.4 241.2 L177.6 244.4 L173 246.2 L169 247.9 L164.6 247.9 L162.1 250.5 L158.5 251.8 L156.2 254.6 L155.8 258.2 L153.7 261.3 L152.8 264.7 L150 268.7 L147.8 273.1 L144.6 274.6 L141.1 275.5 L138.1 277.8 L134.4 278.1 L131.6 281.2 L128.1 283.2 L124.3 284.8 L120.7 286.7 L117.7 289.5 L114.2 291.6 L111.1 294.5 L107.5 296.7 L106.9 300.9 L106.8 305.1 L103 308.5 L99.1 311.8 L96.6 314.9 L93 316.9 L90.7 320.2 L88.3 324.2 L86.7 328.6 L85 333.1 L82.3 337 L81.6 342 L81.3 347.1 L82.2 351.3 L83.3 355.5 L84.2 359.3 L86.7 362.2" fill="none" stroke="#1a0d05" stroke-width="2.9" stroke-linejoin="round" stroke-linecap="round"/>
<path d="M0 342.7 L4.6 342.5 L8.8 340.7 L13.4 340.4 L16.3 343.1 L20.5 342.9 L23.5 345.4 L28.6 345.2 L33.6 345.4 L37.2 344.3 L40 341.3 L43.7 340.4 L47 337 L50.4 333.7 L53.9 331.8 L57.8 332 L57.9 336.2 L58.8 340.4 L57.3 344.5 L57.1 348.8 L52 349.5 L47 350.5 L45.3 355.5 L50.4 358.9 L54.5 360.4 L58.9 359.6 L62.9 361.1 L67.2 361.2 L71.4 361.7 L75.6 361.9 L79.8 361.8 L84 362.2 L88 365.6" fill="none" stroke="#1a0d05" stroke-width="2.9" stroke-linejoin="round" stroke-linecap="round"/>
<path d="M86.7 362.2 L88 368.9 L91.4 372.1 L95.7 374 L100.8 376.7 L95.7 380 L97.4 385.7 L101.7 387.6 L106.4 387.2 L110.9 388.1 L115.8 389.8 L120.9 390.8 L124.7 391.5 L127.4 394.6 L131 395.8 L134.3 397.3 L137.4 399.2 L141.1 399.2 L144.2 401 L148 400.9 L151.2 402.5 L155.7 403.4 L160 405.2 L164.6 405.9 L169.3 405.9 L173.6 408.1 L178 409.3 L181.7 410 L185.1 411.3 L188.1 413.6 L191.8 415.1 L194.2 418.3" fill="none" stroke="#1a0d05" stroke-width="2.9" stroke-linejoin="round" stroke-linecap="round"/>
<path d="M194.2 418.3 L196.8 414.9 L198.2 410.9 L201.1 407.7 L205 405.9 L208 402.9 L211.8 400.9 L213.2 397.4 L215.1 394.1 L219.8 391.8 L223.5 388.1 L227.8 386.3 L232.5 386.4 L237 385.7 L241.5 384.7 L246.2 384.4 L250.4 382.4 L255.6 382.3 L260.5 380.7 L265.5 383.4 L269.2 382.5 L272.2 380 L276.2 377.9 L280.6 376.7 L285.6 375.2 L290.7 374 L295.1 373.4 L299.7 374.5 L304.1 373.3 L308.5 374.6 L313.1 372.9 L317.6 374 L322.8 374.6 L327.6 376.7 L332.8 377.2 L337.7 379 L342.6 377.2 L347.8 376.7 L352 373.6 L356.2 370.6 L360.4 370 L364.6 368.9 L367.5 365.1 L371.3 362.2 L369.3 358.2 L369.6 353.8 L370.3 349.6 L371.3 345.4 L364.6 343.7 L362.6 340.5 L361.2 337 L364.1 334.9 L367.5 333.4 L369.6 330.3 L372.7 328.4 L375.2 325.9 L378 323.6 L376.4 316.9 L375.5 313.4 L374.5 310 L373 306.8 L369.5 305.4 L368 301.6 L364.6 300.1 L366.4 296.9 L367.7 293.7 L368 290 L367.4 294.4 L368.8 290.5 L368.8 286.3" fill="none" stroke="#1a0d05" stroke-width="2.9" stroke-linejoin="round" stroke-linecap="round"/>
<path d="M194.2 418.3 L192.2 421.5 L189.8 424.4 L189.2 429.4 L188.1 434.4 L189.9 437.6 L189.8 441.2" fill="none" stroke="#1a0d05" stroke-width="2.9" stroke-linejoin="round" stroke-linecap="round"/>
<path d="M189.8 441.2 L194.1 439.8 L198.2 437.8 L201.1 435.2 L204.5 433.5 L208.3 432.8 L212.8 432.1 L217.2 432 L221.7 432.8 L226.2 433.2 L230.8 433.3 L235.1 435.1 L239.7 434.2 L244.2 434.9 L248.6 436.1 L252.4 435.2 L256.2 436 L260 435.3 L263.8 436.5 L268.7 438 L273.9 437.8 L274.5 442.1 L275.6 446.2 L280.6 450.6 L284 445.2 L288 444.5 L289.2 448 L289.3 451.6 L289 455.3 L294.1 455.3 L294.5 450.2 L295.7 445.2 L299.5 444.7 L303.3 443.9 L307.1 445.5 L310.9 444.5 L315.5 445.1 L319.8 443.3 L324.3 442.8 L327.6 441.8 L332.7 442.3 L337.7 442.8 L340.6 440.3 L344.4 439.5 L347.5 437.4 L351.2 437.1 L356.2 437.1 L361.2 437.8 L364.9 439.8 L368 442.8 L369.9 446.7 L373 449.6 L374.6 453.6 L374.7 458 L378.1 460.7 L379.7 464.7 L377 468.5 L376.4 473.1 L378 476.5 L380.5 479.5 L381.4 483.2 L384.7 487.1 L388.1 490.9 L393.4 490.9 L398.2 493.2 L403.2 494.5 L408.3 495.6 L408 499.7 L409.9 503.3 L406.8 505.2 L404.9 508.3 L403.6 511.6 L403.2 515.1 L404.2 520.1 L404.3 523.9 L403.2 527.5 L406.8 530.6 L409.9 534.2 L412.3 538.1 L413.3 542.6 L415.3 546.3 L418.3 549.3 L423.3 550.2 L428.4 551 L433.6 550.8 L438.5 549.3 L441.6 546.5 L445.2 544.3 L448.2 542 L451.9 540.9 L456.1 540.8 L460 539.2 L463.6 540 L467.1 539.4 L470.5 538.2 L474.1 537.9 L477.5 536.9 L480.8 535.8 L484 534.2 L488.3 532.4 L492.9 532 L497.4 530.8 L502.4 529.1 L507.5 528.1 L511.8 526.2 L516.2 525.5 L520.9 525.8 L524.1 524 L527.4 522.7 L531.2 522.4 L534.4 520.7 L539 521.3 L543.3 519.5 L547.8 519.1 L552.3 519.8 L556.8 519.6 L561.2 518.1 L565.8 519 L570.2 517.3 L574.7 517.4 L577.8 515.5 L581.2 514.2 L584.5 512.9 L588.1 512.3 L592.4 510.5 L597.2 510.4 L601.6 509 L605.3 508.7 L608.6 507.3 L611.6 505.2 L615 504 L617 500.8 L618.3 497.2 L620.6 494.2 L620.8 490.1 L623.4 487.2 L624.6 482.2 L625.1 477.1 L628.9 476.3 L631.8 473.7 L636.1 473.2 L640 471.4" fill="none" stroke="#1a0d05" stroke-width="2.9" stroke-linejoin="round" stroke-linecap="round"/>
<path d="M189.8 441.2 L186 444.1 L183.1 447.9 L178.9 450.4 L174.7 452.9 L172.4 455.7 L168.7 456.8 L166.3 459.6 L164.4 462.7 L161.3 464.7 L159.6 468 L156.1 471.6 L154.5 476.4 L152.5 479.4 L150.2 482.1 L147.8 484.8 L145.9 488.8 L146.1 493.2 L143 495 L141 498.3 L137.7 499.9 L136.9 504.4 L134.4 508.3 L131.6 512.3 L127.6 515.1 L124.4 516.9 L122.6 520.1 L118.3 521.9 L115.3 525.8 L110.9 527.5 L107.2 528.5 L103.7 529.8 L100.8 532.5 L97 533.8 L93.8 536.2 L90 537.5" fill="none" stroke="#1a0d05" stroke-width="2.9" stroke-linejoin="round" stroke-linecap="round"/>
<path d="M90 537.5 L86.8 539.1 L84.1 541.7 L81 543.6 L77.3 544.3 L73.3 545.6 L70.4 548.5 L67.2 551 L64.6 554.3 L62.1 557.7 L59.5 561.5 L58.8 566.1 L54.7 568.7 L50.4 571.1 L47 572.7 L44.3 575 L42 577.9 L41.5 581.5 L40.3 584.8 L38.6 587.9 L37.4 592.3 L35.3 596.3 L32.3 599.3 L28.6 601.4 L28 605.6 L28.3 609.9 L27.5 614 L26.9 618.2 L26.9 622.6 L24.2 626.4 L24.7 630.9 L23.5 635 L21.9 638.4 L20 641.6 L17.6 644.6 L16.8 648.4 L15.8 651.8 L13.6 654.8 L13.4 658.5 L17.9 657.4 L22.4 656.3 L26.9 655.1 L31.1 655.2 L35.3 653.9 L39.5 655 L43.7 655.1 L47.6 657.9 L50.4 661.8 L52.7 666 L51.9 671 L53.7 675.3 L55.3 680.2 L55.4 685.3 L59.6 686.1 L63.8 687 L67.9 687.2 L71.9 686.5 L75.9 685.6 L80 685.7 L84 685.3 L88.2 685.9 L92.3 686.8 L96.7 685.6 L100.8 687 L105 687.6 L109.3 687.2 L113.5 687.7 L117.6 688.7 L121.7 690.2 L126 690.4 L130.2 691.4 L134.4 692.1 L138.5 693.5 L142.6 694.7 L147 694.4 L151.2 695.4 L155.6 696.6 L160.1 697.2 L164.6 698.1 L169.6 698.5 L174.7 698.8" fill="none" stroke="#1a0d05" stroke-width="2.9" stroke-linejoin="round" stroke-linecap="round"/>
<path d="M13.4 658.5 L12.1 662.6 L11.9 666.9 L10.8 671.1 L10.1 675.3 L9 679.2 L6.8 682.8 L6.3 686.9 L4.8 690.7 L3.5 694.6 L3.4 698.8" fill="none" stroke="#1a0d05" stroke-width="2.9" stroke-linejoin="round" stroke-linecap="round"/>
<path d="M90 537.5 L93.6 537.2 L97.2 538.1 L100.8 538.2 L105.2 539.6 L109.7 539.7 L114.2 539.2 L118.5 538.6 L122.7 538.8 L126.8 539.8 L131 540.2 L134.4 537.5 L139.6 537.3 L144.4 539.2 L149.1 539.7 L153.7 540.5 L157.9 542.6 L162.4 543 L166.8 543.3 L171.3 542.6 L175.6 544.3 L180.4 543.3 L184.8 544.9 L188 546.5 L191.4 547.5 L195.1 547.4 L198.2 549.3 L201.1 551.8 L204.9 552.7 L209.4 553.8 L213.8 552 L218.3 552.7 L222.6 553.5 L226.7 552 L230.9 551.9 L235.1 551.7 L238.1 553.9 L241.6 554.7 L245.2 555 L248.4 558.4 L250.3 562.7 L252.9 565.1 L255.3 567.8 L256.1 572.9 L257 577.9 L258.8 581.2 L261.4 584.4 L263.9 587.5 L265.5 591.3 L268.4 595.3 L270.5 599.7 L272.6 603.4 L275.6 606.4 L276.8 610.6 L275.6 614.8 L278 617.4 L280.6 619.8 L285.7 620.2 L290.7 620.9 L295.9 620.4 L300.8 622.2 L305.1 622.8 L309.2 624.2 L308.9 628.8 L309.2 633.3 L315.9 635 L320.1 634.2 L324.3 633.3 L326.9 636.2 L327.6 640" fill="none" stroke="#1a0d05" stroke-width="2.9" stroke-linejoin="round" stroke-linecap="round"/>
<path d="M174.7 698.8 L176.9 695.2 L177.6 691.1 L178 687 L182.1 685.4 L184.8 682 L187.8 679.8 L191.3 678.9 L194.5 677.1 L198.2 676.9 L201.8 676.1 L204.7 673.5 L208.3 672.6 L212.8 672 L217.2 673.1 L221.7 673.6 L226 675.1 L230.5 675.5 L235.1 675.3 L239.7 675.3 L244.2 675.5 L248.6 676.9 L252.2 678.7 L256.2 678.7 L260 679.3 L263.8 679.3 L267.3 678.6 L270.2 676 L273.6 674.8 L277.3 674.6 L282.4 673.7 L287.3 671.9 L291.8 671.5 L296.2 670.4 L300.8 671.2" fill="none" stroke="#1a0d05" stroke-width="2.9" stroke-linejoin="round" stroke-linecap="round"/>
<path d="M211.8 158.9 L215.3 156.8 L217.6 153.5 L220.2 150.5 L224.5 148.9 L227.5 145.1 L231.9 143.7 L227.3 145.5 L223.5 148.8 L222.8 152.6 L220.2 155.5 L222.1 158.6 L225.2 160.5 L229.4 161.2 L233.6 162.2 L237.1 162.9 L240.3 164.5 L243.3 166.5 L247 166.6 L250.5 167.1 L254 167.7 L257.1 169.7 L260.5 170.6 L264.9 171.7 L268.9 174 L272.2 168.9 L273.7 165.5 L276 162.8 L278.9 160.5 L283.3 160.3 L287.3 162.2 L291.2 159.9 L295.7 158.9 L298.6 161.1 L300.8 163.9 L304.5 166.9 L307.5 170.6 L307.7 174.4 L309.2 178 L313.2 175.5 L317.6 174 L320.9 175.3 L324.6 175.9 L327.6 178 L332.7 178.6 L337.7 180 L342.6 178.3 L347.8 179 L351.2 180.7 L353.9 183.4 L352.9 179.6 L354.9 176 L354.5 172.3 L357.8 173.5 L361.5 173.9 L364.6 175.7 L367.9 174.5 L371.7 174.4 L374.7 172.3 L379 170.6 L383.8 171.5 L388.1 169.9 L391.4 168.7 L394.8 167.7 L398.5 167.4 L401.6 165.6 L404.9 164.3 L408.3 163.4 L411.8 162.7 L415 161.2 L421.7 162.2" fill="none" stroke="#1a0d05" stroke-width="2.9" stroke-linejoin="round" stroke-linecap="round"/>
<path d="M404.9 94 L406.4 98.5 L409.9 101.8 L412.8 104.9 L415 108.5 L418.9 110.9 L423.4 111.8 L420 116.9 L418.3 123.6 L419.5 128 L421.7 132 L419.7 136.1 L418.3 140.4 L421 144.5 L423.4 148.8 L422 153.1 L420 157.2 L421.9 162.1 L421.7 167.3 L423.7 170.3 L424.9 173.6 L425.1 177.3 L423.7 182.3 L423.4 187.4 L423.1 192.5 L421.7 197.5 L423.3 202.4 L423.4 207.6 L426.9 209.7 L428.4 213.8 L431.8 216 L432.6 220.5 L435.1 224.4 L433.9 229.3 L433.5 234.4 L434.8 238.5 L435.1 242.8 L434.4 247.5 L432.5 251.9" fill="none" stroke="#1a0d05" stroke-width="2.9" stroke-linejoin="round" stroke-linecap="round"/>
<path d="M432.5 252 L430.9 247.8 L430.2 243.3 L425.5 242.2 L420.9 240.9 L416.9 238 L414 234 L408.1 235.1 L407.7 239.2 L407 243.3 L403.7 245 L400 245.6 L396.1 243.9 L391.9 244.4 L389.1 247.4 L388.4 251.4 L389.5 254.9 L394.2 258.4 L391.8 261.2 L389.5 264.2 L391.8 267.4 L393 271.2 L392.5 274.8 L394.2 278.1 L390.5 279.7 L386.7 280.8 L383.2 282.8 L379 282.8 L374.5 284.4 L369.8 285.5" fill="none" stroke="#1a0d05" stroke-width="2.9" stroke-linejoin="round" stroke-linecap="round"/>
<path d="M432.5 251.9 L436.2 251.1 L440 250.4 L443.7 249.6 L446.6 246.7 L450.4 245.1 L453.7 242.8 L456.7 240.4 L460.3 239.8 L463.5 238.1 L467.2 237.8 L470.5 236.3 L473.5 234.3 L476.8 233 L480.6 232.8 L483.8 230.7 L487 228.8 L490.7 227.7 L494.2 225.6 L497.5 223.3 L500.8 221 L504.4 220.3 L507.6 218.9 L511 217.7 L514.2 216 L518.7 216.9 L523.1 215.7 L527.6 216 L531.4 216 L535.1 218 L539.1 216.4 L542.8 217.6 L540.6 220.8 L539.4 224.4 L541.1 231.1 L544.4 232.5 L548.2 232.3 L551.2 234.4 L557.9 236.1 L561.6 235.2 L565.1 233.6 L568 231.1 L572.5 231.4 L576.9 231.7 L581.4 231.1 L584.4 233.4 L588.5 233.7 L591.4 236.2 L594.8 237.8 L598.2 239.5 L601.2 241.9 L604.6 243.5 L608.3 244.5 L612.6 246.4 L617.2 247 L621.7 247.9 L626.1 249.1 L630.6 248.8 L635.1 248.6 L638.2 250.9 L642.1 251.8 L645.6 253.3 L648.8 255.4 L651.7 258 L654.5 260.3 L657.4 262.3 L658.7 266.1 L661.8 268 L665.2 273.1 L670.2 273.2 L675.2 273.1 L679.8 272.6 L684.3 271.8 L688.7 270.7 L693.1 271.9 L697.6 272.3 L702.1 273.1 L706.7 272.5 L711 274.9 L715.6 274.8 L719.9 276.5 L724.5 277 L729 278.1 L731.2 281.5 L733.1 285 L735.7 288.2 L735.6 291.9 L732.9 294.8 L732.3 298.3 L729.3 301 L726.2 303.6 L722.3 305 L720.5 308.2 L717.4 310.3 L715.6 313.4 L712.2 315.2 L709.4 319.1 L705.5 321.9 L702.8 324.3 L700.1 326.8 L698.8 330.3 L699.6 334.5 L700.4 338.7 L703.9 340.7 L707.2 343.1 L710.5 345.4 L713 348.7 L715.6 351.9 L718.9 354.5 L722.1 357.3 L725.4 359.9 L729 362.2 L732.9 363.4 L736.1 365.7 L739.4 368 L742.4 370.6" fill="none" stroke="#1a0d05" stroke-width="2.9" stroke-linejoin="round" stroke-linecap="round"/>
<path d="M718.9 354.5 L713.7 355.3 L708.8 357.2 L703.9 358.5 L698.8 358.9 L693.7 359.9 L688.7 361.2 L686.1 365.1 L682 367.3 L679.2 370.6 L675.2 372.3 L674 375.9 L671.9 379 L673.2 382.5 L675.2 385.7 L680.3 389.1 L678.6 394.1 L673.5 393.6 L668.5 394.1 L671 396.7 L674.4 398.2 L676.9 400.9 L679.4 404.3 L682 407.6 L680.9 411 L679.8 414.3 L678.6 417.6 L677.1 421.5 L673.3 423.8 L671.9 427.7 L670.2 431 L666.5 432.6 L665.2 436.1 L661.4 436.9 L659 440.5 L655.1 441.2 L651.8 443.5 L647.9 445 L645 447.9 L641.5 451.5 L640 456.3 L639.6 461.4 L639 466.4 L640 471.4" fill="none" stroke="#1a0d05" stroke-width="2.9" stroke-linejoin="round" stroke-linecap="round"/>
<path d="M640 471.4 L642.1 474.5 L643.3 478.1 L646.3 480.2 L648.4 483.2 L652.7 485 L657.5 484 L661.8 485.5 L666.2 486.4 L670.9 486 L675.2 487.5 L680.3 488.2" fill="none" stroke="#1a0d05" stroke-width="2.9" stroke-linejoin="round" stroke-linecap="round"/>
<path d="M497.4 530.8 L499 535 L500.8 539.2 L505.9 540.3 L510.9 539.2 L516.1 539.5 L520.9 541.6 L524.3 547.6 L520.6 548.6 L517.6 551 L512.5 551.8 L507.5 552.7 L503 553.5 L499.1 556 L496.9 560 L495.7 564.4" fill="none" stroke="#1a0d05" stroke-width="2.9" stroke-linejoin="round" stroke-linecap="round"/>
<path d="M302 649.5 L305.7 649.3 L309.2 651.2 L313 650.7 L316.5 648.3 L320 646 L325 649.5 L324.9 645 L327 641" fill="none" stroke="#1a0d05" stroke-width="2.9" stroke-linejoin="round" stroke-linecap="round"/>
<path d="M326.7 264.2 L368.6 264.2 L369.8 270 L368.8 286.3 L323.3 286.3 L322.1 277 L324.4 273.5 L325 268Z" fill="none" stroke="#1a0d05" stroke-width="1.7" stroke-linejoin="round" stroke-linecap="round"/>
<rect x="0" y="94" width="2.5" height="603" fill="#3a2a10"/>
</g>
<rect x="0" y="0" width="774" height="46" fill="url(#hg)"/>
<rect x="0" y="43.8" width="774" height="2.2" fill="#1d5a70"/>
<rect x="0" y="45.8" width="774" height="49.2" fill="#fcebdd"/>
<rect x="0" y="45.8" width="774" height="2.5" fill="#f6f2ec"/>
<path d="M219 47 L214 62 L210 76 L206 95" fill="none" stroke="#b09a90" stroke-opacity="0.3" stroke-width="1.5"/>
<path d="M418 46 L424 60 L432 72 L428 95" fill="none" stroke="#b09a90" stroke-opacity="0.22" stroke-width="1.5"/>
<path d="M395 0 L400 12 L410 22 L470 18 L520 10 L560 4 M640 0 L650 12 L690 16 L720 4 M395 12 L392 30 L398 46 M215 30 L220 46" fill="none" stroke="#5fa6b8" stroke-opacity="0.35" stroke-width="1.3"/>
<text x="29.7" y="32.6" font-family="DejaVu Sans, Liberation Sans, sans-serif" font-weight="bold" font-style="italic" font-size="25.8" textLength="292" lengthAdjust="spacingAndGlyphs" fill="#071620" stroke="#071620" stroke-width="1.2" stroke-linejoin="round">Anomalia de Chuva</text>
<text x="31.5" y="31" font-family="DejaVu Sans, Liberation Sans, sans-serif" font-weight="bold" font-style="italic" font-size="25.8" textLength="292" lengthAdjust="spacingAndGlyphs" fill="#ffffff" stroke="#ffffff" stroke-width="0.9" stroke-linejoin="round">Anomalia de Chuva</text>
<text x="24.3" y="74" font-family="DejaVu Sans, Liberation Sans, sans-serif" font-weight="bold" font-size="11.6" fill="#1a1410" stroke="#1a1410" stroke-width="0.35" textLength="158" lengthAdjust="spacingAndGlyphs">Entre 01/04 e 22/04.</text>
<rect x="283.2" y="82.1" width="36.9" height="10.4" fill="#d8140a"/>
<rect x="319.8" y="82.1" width="36.9" height="10.4" fill="#ef4f10"/>
<rect x="356.4" y="82.1" width="36.9" height="10.4" fill="#f98128"/>
<rect x="393" y="82.1" width="36.9" height="10.4" fill="#faa442"/>
<rect x="429.6" y="82.1" width="36.9" height="10.4" fill="#fdd058"/>
<rect x="466.2" y="82.1" width="36.9" height="10.4" fill="#fff4c4"/>
<rect x="502.8" y="82.1" width="36.9" height="10.4" fill="#e2f6fa"/>
<rect x="539.4" y="82.1" width="36.9" height="10.4" fill="#aadff6"/>
<rect x="576" y="82.1" width="36.9" height="10.4" fill="#8ec8f3"/>
<rect x="612.6" y="82.1" width="36.9" height="10.4" fill="#4e96e8"/>
<rect x="649.2" y="82.1" width="36.9" height="10.4" fill="#2a5fd8"/>
<rect x="685.8" y="82.1" width="36.9" height="10.4" fill="#0a0a8c"/>
<text transform="translate(287.5 78.1) scale(1 1.1)" font-family="Liberation Sans, sans-serif" font-size="14.5" fill="#222" textLength="32.5" lengthAdjust="spacingAndGlyphs">-300</text>
<text transform="translate(330.5 78.1) scale(1 1.1)" font-family="Liberation Sans, sans-serif" font-size="14.5" fill="#222" textLength="32.9" lengthAdjust="spacingAndGlyphs">-200</text>
<text transform="translate(374.5 78.1) scale(1 1.1)" font-family="Liberation Sans, sans-serif" font-size="14.5" fill="#222" textLength="31.5" lengthAdjust="spacingAndGlyphs">-100</text>
<text transform="translate(420 78.1) scale(1 1.1)" font-family="Liberation Sans, sans-serif" font-size="14.5" fill="#222" textLength="24" lengthAdjust="spacingAndGlyphs">-50</text>
<text transform="translate(459 78.1) scale(1 1.1)" font-family="Liberation Sans, sans-serif" font-size="14.5" fill="#222" textLength="23.5" lengthAdjust="spacingAndGlyphs">-25</text>
<text transform="translate(502 78.1) scale(1 1.1)" font-family="Liberation Sans, sans-serif" font-size="14.5" fill="#222" textLength="8" lengthAdjust="spacingAndGlyphs">0</text>
<text transform="translate(531.5 78.1) scale(1 1.1)" font-family="Liberation Sans, sans-serif" font-size="14.5" fill="#222" textLength="15.5" lengthAdjust="spacingAndGlyphs">25</text>
<text transform="translate(568 78.1) scale(1 1.1)" font-family="Liberation Sans, sans-serif" font-size="14.5" fill="#222" textLength="16" lengthAdjust="spacingAndGlyphs">50</text>
<text transform="translate(602 78.1) scale(1 1.1)" font-family="Liberation Sans, sans-serif" font-size="14.5" fill="#222" textLength="23" lengthAdjust="spacingAndGlyphs">100</text>
<text transform="translate(641 78.1) scale(1 1.1)" font-family="Liberation Sans, sans-serif" font-size="14.5" fill="#222" textLength="24" lengthAdjust="spacingAndGlyphs">200</text>
<text transform="translate(678.5 78.1) scale(1 1.1)" font-family="Liberation Sans, sans-serif" font-size="14.5" fill="#222" textLength="63.5" lengthAdjust="spacingAndGlyphs">300(mm)</text>
<text x="542.5" y="665.2" font-family="Liberation Sans, sans-serif" font-size="37.4" fill="#8088c0" stroke="#8088c0" stroke-width="1.5" opacity="0.55" filter="url(#b2)" textLength="192.5" lengthAdjust="spacingAndGlyphs">CLIMATEMPO</text>
<text x="542.5" y="665.2" font-family="Liberation Sans, sans-serif" font-size="37.4" fill="#ececf6" textLength="192.5" lengthAdjust="spacingAndGlyphs">CLIMATEMPO</text>
<rect x="720" y="650.6" width="22.5" height="2.4" fill="#ececf6"/>
</svg></body></html>
